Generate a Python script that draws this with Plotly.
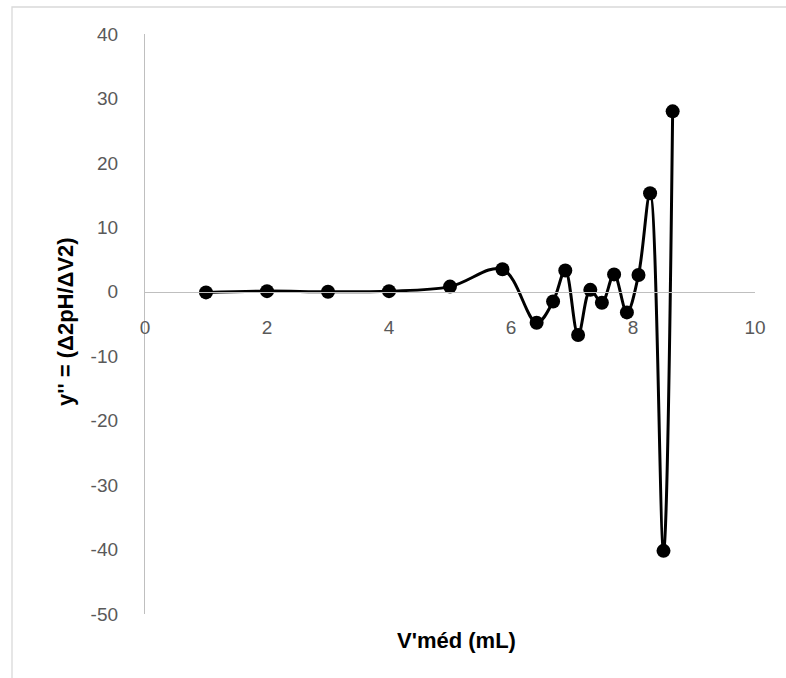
import plotly.graph_objects as go

v_med = [1, 2, 3, 4, 5, 5.86, 6.42, 6.69, 6.89, 7.10, 7.30, 7.49, 7.69, 7.90, 8.09, 8.28, 8.50, 8.65]
d2ph = [-0.1, 0.1, 0.0, 0.1, 0.8, 3.5, -4.8, -1.5, 3.3, -6.7, 0.3, -1.7, 2.7, -3.2, 2.6, 15.3, -40.2, 28.0]

x_ticks = [0, 2, 4, 6, 8, 10]
x_tick_labels = ["0", "2", "4", "6", "8", "10"]
y_ticks = [40, 30, 20, 10, 0, -10, -20, -30, -40, -50]
y_tick_labels = ["40", "30", "20", "10", "0", "-10", "-20", "-30", "-40", "-50"]
x_range = [0, 10]
y_range = [-50, 40]

W, H = 786, 678
ml, mr, mt, mb = 145, 31, 34, 64
pw, ph = W - ml - mr, H - mt - mb

def px_to_paper_x(px):
    return (px - ml) / pw

def py_to_paper_y(py):
    return (H - mb - py) / ph

fig = go.Figure()
fig.add_trace(go.Scatter(
    x=v_med, y=d2ph, mode="lines+markers",
    line=dict(color="black", width=3, shape="spline", smoothing=1),
    marker=dict(color="black", size=14),
    showlegend=False,
))

tick_font = dict(family="Liberation Sans", size=19, color="#595959")
fig.update_layout(
    width=W, height=H,
    margin=dict(l=ml, r=mr, t=mt, b=mb),
    paper_bgcolor="white", plot_bgcolor="white",
    xaxis=dict(
        range=x_range, tickvals=x_ticks, ticktext=x_tick_labels,
        showgrid=False, zeroline=False,
        showline=True, linecolor="#bfbfbf", linewidth=1.3,
        anchor="free", position=(0 - y_range[0]) / (y_range[1] - y_range[0]),
        ticks="outside", ticklen=18, tickcolor="rgba(0,0,0,0)",
        tickfont=tick_font,
    ),
    yaxis=dict(
        range=y_range, tickvals=y_ticks, ticktext=y_tick_labels,
        showgrid=False, zeroline=False,
        showline=True, linecolor="#bfbfbf", linewidth=1.3,
        ticks="outside", ticklen=22, tickcolor="rgba(0,0,0,0)",
        tickfont=tick_font,
    ),
    shapes=[dict(
        type="rect", xref="paper", yref="paper",
        x0=px_to_paper_x(12), x1=px_to_paper_x(800),
        y0=py_to_paper_y(700), y1=py_to_paper_y(7),
        line=dict(color="#d9d9d9", width=1.3), fillcolor="rgba(0,0,0,0)",
        layer="below",
    )],
    annotations=[
        dict(text="<b>V'méd (mL)</b>", xref="paper", yref="paper",
             x=px_to_paper_x(456), y=py_to_paper_y(640), showarrow=False,
             xanchor="center", yanchor="middle",
             font=dict(family="Liberation Sans", size=22, color="black")),
        dict(text="<b>y'' = (Δ2pH/ΔV2)</b>", xref="paper", yref="paper",
             x=px_to_paper_x(65), y=py_to_paper_y(322), showarrow=False,
             xanchor="center", yanchor="middle", textangle=-90,
             font=dict(family="Liberation Sans", size=22, color="black")),
    ],
)

fig.write_html("out.html")
